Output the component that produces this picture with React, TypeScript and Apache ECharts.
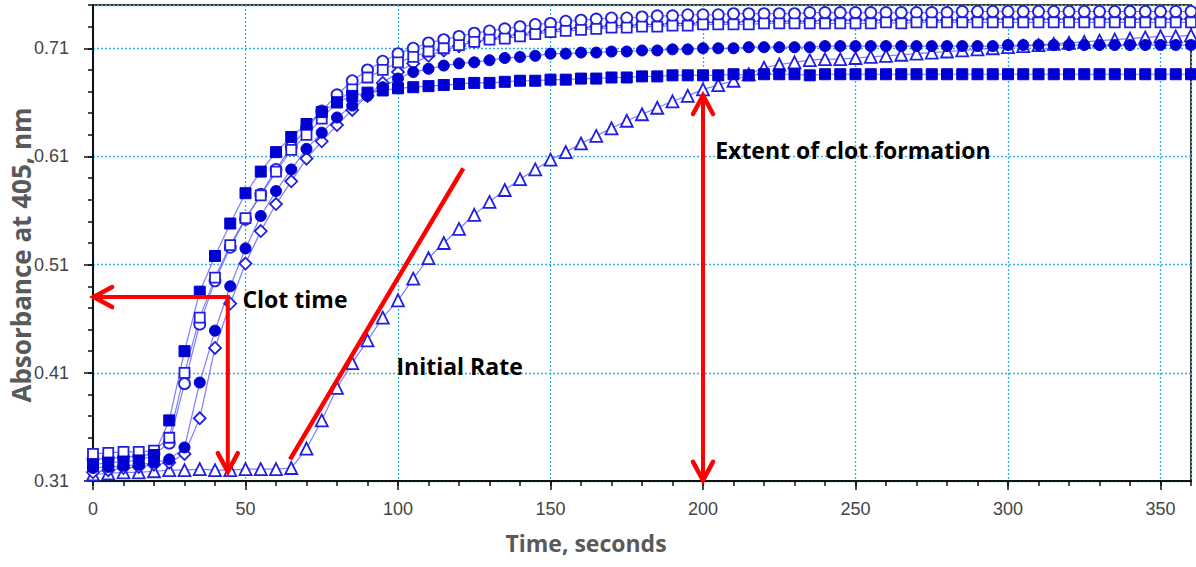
import React, { useEffect, useRef } from "react";
import * as echarts from "echarts";

const times = [
  0, 5, 10, 15, 20, 25, 30, 35, 40, 45,
  50, 55, 60, 65, 70, 75, 80, 85, 90, 95,
  100, 105, 110, 115, 120, 125, 130, 135, 140, 145,
  150, 155, 160, 165, 170, 175, 180, 185, 190, 195,
  200, 205, 210, 215, 220, 225, 230, 235, 240, 245,
  250, 255, 260, 265, 270, 275, 280, 285, 290, 295,
  300, 305, 310, 315, 320, 325, 330, 335, 340, 345,
  350, 355, 360,
];

const filledSquares = [
  0.325, 0.327, 0.328, 0.329, 0.334, 0.366, 0.430, 0.485, 0.518, 0.548,
  0.576, 0.596, 0.614, 0.628, 0.640, 0.651, 0.660, 0.666, 0.669, 0.671,
  0.673, 0.674, 0.675, 0.676, 0.677, 0.678, 0.678, 0.679, 0.680, 0.680,
  0.681, 0.681, 0.682, 0.682, 0.683, 0.683, 0.684, 0.684, 0.685, 0.685,
  0.685, 0.685, 0.686, 0.685, 0.686, 0.686, 0.686, 0.685, 0.686, 0.686,
  0.686, 0.686, 0.686, 0.686, 0.686, 0.686, 0.686, 0.686, 0.686, 0.686,
  0.686, 0.686, 0.686, 0.686, 0.686, 0.686, 0.686, 0.686, 0.686, 0.686,
  0.686, 0.686, 0.686,
];

const openSquares = [
  0.335, 0.336, 0.337, 0.337, 0.338, 0.350, 0.410, 0.461, 0.498, 0.528,
  0.553, 0.574, 0.596, 0.616, 0.630, 0.645, 0.660, 0.672, 0.683, 0.690,
  0.697, 0.702, 0.707, 0.710, 0.713, 0.716, 0.718, 0.719, 0.721, 0.723,
  0.725, 0.726, 0.727, 0.728, 0.729, 0.729, 0.730, 0.730, 0.731, 0.731,
  0.732, 0.732, 0.732, 0.732, 0.733, 0.733, 0.733, 0.733, 0.733, 0.733,
  0.733, 0.733, 0.734, 0.733, 0.734, 0.734, 0.734, 0.734, 0.734, 0.734,
  0.734, 0.734, 0.734, 0.734, 0.734, 0.734, 0.734, 0.734, 0.734, 0.734,
  0.734, 0.734, 0.734,
];

const openCircles = [
  0.330, 0.331, 0.332, 0.333, 0.335, 0.345, 0.400, 0.455, 0.495, 0.526,
  0.552, 0.575, 0.598, 0.619, 0.636, 0.652, 0.667, 0.680, 0.690, 0.698,
  0.705, 0.710, 0.715, 0.718, 0.721, 0.724, 0.726, 0.728, 0.730, 0.732,
  0.733, 0.735, 0.736, 0.737, 0.738, 0.738, 0.739, 0.740, 0.740, 0.741,
  0.741, 0.741, 0.742, 0.742, 0.742, 0.742, 0.742, 0.743, 0.743, 0.743,
  0.743, 0.743, 0.743, 0.743, 0.743, 0.743, 0.743, 0.744, 0.744, 0.744,
  0.744, 0.744, 0.744, 0.744, 0.744, 0.744, 0.744, 0.744, 0.744, 0.744,
  0.744, 0.744, 0.744,
];

const filledCircles = [
  0.322, 0.323, 0.324, 0.325, 0.327, 0.330, 0.341, 0.401, 0.449, 0.490,
  0.525, 0.555, 0.578, 0.598, 0.617, 0.632, 0.646, 0.657, 0.666, 0.674,
  0.682, 0.688, 0.691, 0.694, 0.696, 0.697, 0.699, 0.701, 0.702, 0.703,
  0.705, 0.705, 0.706, 0.706, 0.707, 0.707, 0.708, 0.708, 0.709, 0.709,
  0.710, 0.710, 0.710, 0.711, 0.711, 0.711, 0.711, 0.711, 0.712, 0.712,
  0.712, 0.712, 0.712, 0.712, 0.712, 0.712, 0.712, 0.712, 0.712, 0.712,
  0.713, 0.713, 0.713, 0.713, 0.713, 0.713, 0.713, 0.713, 0.713, 0.713,
  0.713, 0.713, 0.713,
];

const openDiamonds = [
  0.318, 0.320, 0.322, 0.323, 0.325, 0.327, 0.335, 0.368, 0.433, 0.474,
  0.511, 0.541, 0.566, 0.587, 0.608, 0.624, 0.639, 0.653, 0.666, 0.678,
  0.688, 0.696, 0.703, 0.708, 0.712, 0.716, 0.719, 0.721, 0.723, 0.725,
  0.727, 0.728, 0.729, 0.730, 0.731, 0.731, 0.732, 0.732, 0.733, 0.733,
  0.734, 0.734, 0.734, 0.735, 0.735, 0.735, 0.735, 0.735, 0.736, 0.736,
  0.736, 0.736, 0.736, 0.736, 0.736, 0.736, 0.736, 0.736, 0.737, 0.737,
  0.737, 0.737, 0.737, 0.737, 0.737, 0.737, 0.737, 0.737, 0.737, 0.737,
  0.737, 0.737, 0.737,
];

const openTriangles = [
  0.316, 0.317, 0.318, 0.318, 0.319, 0.320, 0.320, 0.321, 0.320, 0.320,
  0.321, 0.321, 0.321, 0.322, 0.340, 0.366, 0.396, 0.419, 0.440, 0.461,
  0.477, 0.497, 0.516, 0.530, 0.543, 0.556, 0.568, 0.579, 0.589, 0.598,
  0.607, 0.614, 0.622, 0.629, 0.636, 0.643, 0.649, 0.655, 0.661, 0.666,
  0.672, 0.676, 0.680, 0.686, 0.692, 0.695, 0.697, 0.699, 0.700, 0.700,
  0.701, 0.702, 0.703, 0.704, 0.705, 0.706, 0.707, 0.708, 0.709, 0.710,
  0.711, 0.712, 0.713, 0.714, 0.715, 0.716, 0.717, 0.718, 0.719, 0.720,
  0.721, 0.721, 0.722,
];

const yTitle = "Absorbance at 405, nm";
const xTitle = "Time, seconds";

// annotation anchors in data units [time, absorbance]
const clotTimePoint = [44.2, 0.48];
const clotTimeAxisTip = [0.7, 0.48];
const clotTimeBaseTip = [44.2, 0.32];
const initialRateLine = [[64.6, 0.330], [121.4, 0.599]];
const extentTop = [200, 0.665];
const extentBottom = [200, 0.312];
const labelClot = { text: "Clot time", at: [49, 0.478] };
const labelRate = { text: "Initial Rate", at: [99.5, 0.416] };
const labelExtent = { text: "Extent of clot formation", at: [204, 0.616] };

const MARK = "#0000d2";
const LINE = "#5c5cff";

const seriesDefs = [
  { name: "Open triangles", values: openTriangles, symbol: "triangle", filled: false, size: 12 },
  { name: "Open diamonds", values: openDiamonds, symbol: "diamond", filled: false, size: 12 },
  { name: "Open circles", values: openCircles, symbol: "circle", filled: false, size: 11 },
  { name: "Open squares", values: openSquares, symbol: "rect", filled: false, size: 10 },
  { name: "Filled circles", values: filledCircles, symbol: "circle", filled: true, size: 11 },
  { name: "Filled squares", values: filledSquares, symbol: "rect", filled: true, size: 11 },
];

export default function App() {
  const ref = useRef<HTMLDivElement>(null);

  useEffect(() => {
    const chart = echarts.init(ref.current!, null, { renderer: "svg" });
    const labelFont = "'Liberation Sans Narrow', 'Liberation Sans', Arial, sans-serif";
    const titleBase = {
      color: "#595959",
      fontWeight: "bold" as const,
      fontFamily: "'Open Sans', Lato, sans-serif",
    };
    const option: any = {
      animation: false,
      backgroundColor: "#ffffff",
      grid: {
        left: 93,
        right: 5,
        top: 5,
        bottom: 86,
        show: true,
        borderColor: "#3a3a3a",
        borderWidth: 2,
        outerBoundsMode: "none",
      },
      xAxis: [
        {
          type: "value",
          min: 0,
          max: 360,
          interval: 50,
          name: xTitle,
          nameLocation: "middle",
          nameGap: 50,
          nameTextStyle: { ...titleBase, fontSize: 23, padding: [0, 112, 0, 0] },
          axisLine: { show: true, onZero: false, lineStyle: { color: "#111", width: 2 } },
          axisTick: { show: true, inside: false, length: 9, lineStyle: { color: "#111", width: 1.5 } },
          axisLabel: {
            color: "#444",
            fontSize: 18,
            fontFamily: labelFont,
            margin: 19,
            showMaxLabel: false,
          },
          splitLine: {
            show: true,
            lineStyle: { color: "#2fb0ee", width: 1.3, type: [2, 2] },
          },
        },
        {
          type: "value",
          min: 0,
          max: 360,
          interval: 10,
          position: "bottom",
          axisLine: { show: false },
          axisTick: { show: true, inside: false, length: 5, lineStyle: { color: "#111", width: 1.5 } },
          axisLabel: { show: false },
          splitLine: { show: false },
        },
      ],
      yAxis: [
        {
          type: "value",
          min: 0.31,
          max: 0.75,
          interval: 0.1,
          axisLine: { show: true, onZero: false, lineStyle: { color: "#111", width: 2 } },
          axisTick: { show: true, inside: false, length: 9, lineStyle: { color: "#111", width: 1.5 } },
          axisLabel: {
            color: "#444",
            fontSize: 18,
            fontFamily: labelFont,
            margin: 24,
            showMaxLabel: false,
            formatter: (v: number) => v.toFixed(2),
          },
          splitLine: {
            show: true,
            lineStyle: { color: "#2fb0ee", width: 1.3, type: [2, 2] },
          },
        },
        {
          type: "value",
          min: 0.31,
          max: 0.75,
          interval: 0.02,
          position: "left",
          axisLine: { show: false },
          axisTick: { show: true, inside: false, length: 5, lineStyle: { color: "#111", width: 1.5 } },
          axisLabel: { show: false },
          splitLine: { show: false },
        },
      ],
      series: seriesDefs.map((s) => ({
        name: s.name,
        type: "line",
        xAxisIndex: 0,
        yAxisIndex: 0,
        data: times.map((t, i) => [t, s.values[i]]),
        symbol: s.symbol,
        symbolSize: s.size,
        showAllSymbol: true,
        clip: false,
        lineStyle: { color: LINE, width: 1.2, opacity: 0.8 },
        itemStyle: s.filled
          ? { color: MARK, borderColor: MARK, borderWidth: 1 }
          : { color: "#ffffff", borderColor: "#2020e0", borderWidth: 1.8 },
        emphasis: { disabled: true },
      })),
    };
    chart.setOption(option);

    const px = (p: number[]) => chart.convertToPixel({ xAxisIndex: 0, yAxisIndex: 0 }, p) as number[];
    const RED = "#ff0000";
    const line = (a: number[], b: number[], w = 4) => ({
      type: "line",
      shape: { x1: a[0], y1: a[1], x2: b[0], y2: b[1] },
      style: { stroke: RED, lineWidth: w, lineCap: "butt" },
      z: 100,
    });
    const head = (from: number[], tip: number[]) => {
      const dx = tip[0] - from[0];
      const dy = tip[1] - from[1];
      const len = Math.hypot(dx, dy);
      const ux = dx / len;
      const uy = dy / len;
      const L = 17;
      const W = 10;
      return {
        type: "polyline",
        shape: {
          points: [
            [tip[0] - ux * L - uy * W, tip[1] - uy * L + ux * W],
            [tip[0] + ux * 1.5, tip[1] + uy * 1.5],
            [tip[0] - ux * L + uy * W, tip[1] - uy * L - ux * W],
          ],
        },
        style: { stroke: RED, lineWidth: 4.5, fill: "none", lineJoin: "miter", lineCap: "round" },
        z: 100,
      };
    };
    const text = (l: { text: string; at: number[] }) => {
      const p = px(l.at);
      return {
        type: "text",
        x: p[0],
        y: p[1],
        z: 110,
        style: {
          text: l.text,
          fill: "#000",
          font: "bold 23px 'Open Sans', Lato, sans-serif",
          align: "left",
          verticalAlign: "middle",
        },
      };
    };

    const c = px(clotTimePoint);
    const ca = px(clotTimeAxisTip);
    const cb = px(clotTimeBaseTip);
    const r0 = px(initialRateLine[0]);
    const r1 = px(initialRateLine[1]);
    const et = px(extentTop);
    const eb = px(extentBottom);

    chart.setOption({
      graphic: [
        {
          type: "text",
          x: 21,
          y: 255,
          rotation: Math.PI / 2,
          z: 110,
          style: {
            text: yTitle,
            fill: "#595959",
            font: "bold 26px 'Open Sans', Lato, sans-serif",
            align: "center",
            verticalAlign: "middle",
          },
        },
        line([c[0] + 2, c[1]], ca),
        head(c, ca),
        line([c[0], c[1] - 2], cb),
        head(c, cb),
        line(r0, r1, 4.5),
        line(et, eb),
        head(eb, et),
        head(et, eb),
        text(labelClot),
        text(labelRate),
        text(labelExtent),
      ],
    });

    return () => chart.dispose();
  }, []);

  return (
    <div
      ref={ref}
      style={{ position: "fixed", left: 0, top: 0, width: 1196, height: 567, background: "#fff" }}
    />
  );
}
